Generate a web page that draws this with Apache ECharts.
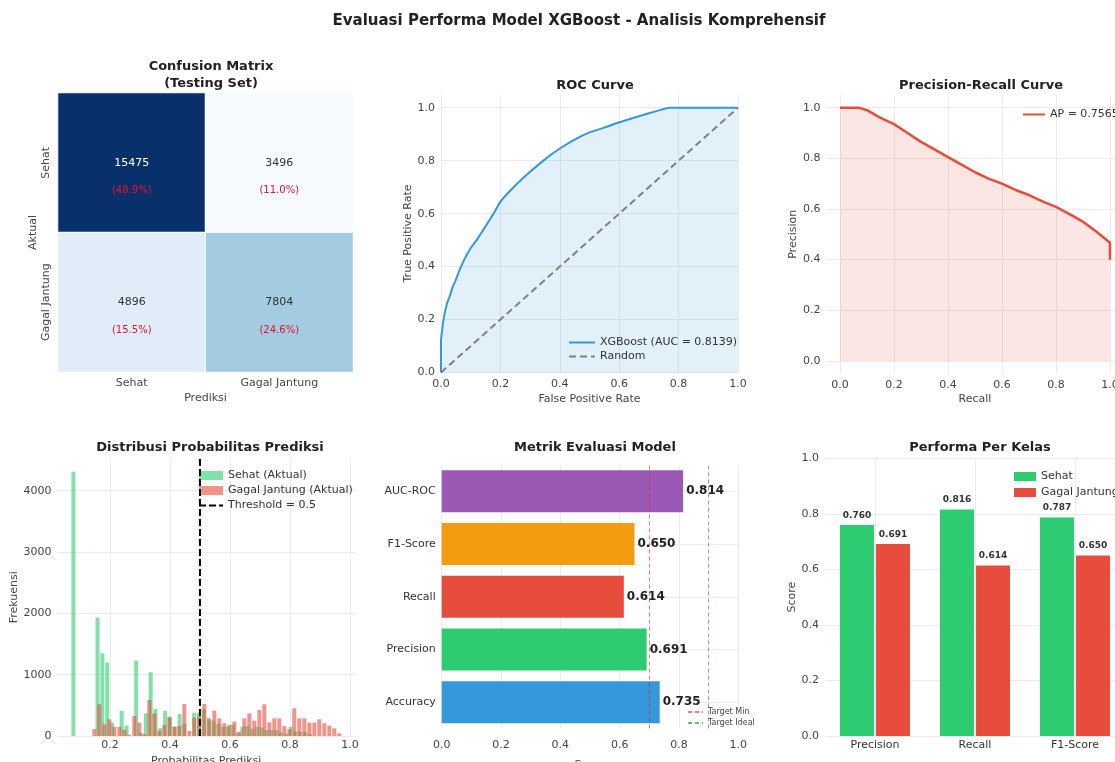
<!DOCTYPE html>
<html>
<head>
<meta charset="utf-8">
<script src="https://cdn.jsdelivr.net/npm/echarts@6/dist/echarts.min.js"></script>
<style>
html, body { margin: 0; padding: 0; background: #fff; }
#main { width: 1115px; height: 762px; }
</style>
</head>
<body>
<div id="main"></div>
<script>
// confusion matrix (baris = aktual, kolom = prediksi)
var cmLabels = ['Sehat', 'Gagal Jantung'];
var cmValues = [[15475, 3496], [4896, 7804]];

// ROC curve
var rocFpr = [0, 0, 0.005, 0.01, 0.02, 0.03, 0.04, 0.05, 0.06, 0.08,
    0.1, 0.12, 0.14, 0.16, 0.18, 0.2, 0.25, 0.3, 0.35, 0.4,
    0.45, 0.5, 0.55, 0.6, 0.65, 0.7, 0.75, 0.77, 1.0];
var rocTpr = [0, 0.12, 0.17, 0.21, 0.26, 0.29, 0.325, 0.35, 0.38, 0.43,
    0.47, 0.5, 0.535, 0.57, 0.605, 0.645, 0.706, 0.758, 0.805, 0.846,
    0.88, 0.907, 0.925, 0.945, 0.962, 0.979, 0.995, 1.0, 1.0];
var rocAuc = 0.8139;

// precision-recall curve
var prRecall = [0, 0.07, 0.1, 0.15, 0.2, 0.25, 0.3, 0.35, 0.4, 0.45, 0.5, 0.55, 0.6, 0.65, 0.7, 0.75, 0.8, 0.85, 0.9, 0.95, 1.0, 1.0];
var prPrecision = [1.0, 1.0, 0.99, 0.96, 0.935, 0.9, 0.865, 0.835, 0.805, 0.775, 0.745, 0.72, 0.7, 0.675, 0.655, 0.63, 0.608, 0.58, 0.55, 0.51, 0.467, 0.40];
var apScore = 0.7565;

// distribusi probabilitas (histogram 50 bin per kelas)
var sehatBinStart = 0.070, sehatBinWidth = 0.0161;
var sehatCounts = [4310, 0, 0, 0, 0, 1930, 1350, 1200, 220, 0,
    410, 170, 0, 1230, 50, 370, 1040, 440, 130, 410,
    300, 150, 360, 200, 0, 380, 380, 440, 300, 250,
    200, 150, 150, 180, 50, 150, 160, 120, 150, 140,
    100, 100, 100, 60, 40, 150, 80, 70, 60, 30];
var gagalBinStart = 0.1395, gagalBinWidth = 0.01667;
var gagalCounts = [114, 517, 190, 272, 150, 150, 100, 20, 326, 218,
    30, 588, 370, 87, 180, 315, 152, 163, 522, 82,
    299, 320, 522, 272, 413, 288, 207, 180, 234, 71,
    288, 370, 250, 424, 517, 223, 288, 288, 163, 109,
    452, 288, 288, 218, 218, 272, 207, 169, 125, 44];
var threshold = 0.5;
var histYMax = 4525;

// metrik evaluasi
var metricNames = ['Accuracy', 'Precision', 'Recall', 'F1-Score', 'AUC-ROC'];
var metricValues = [0.735, 0.691, 0.614, 0.650, 0.814];
var targetMin = 0.7, targetIdeal = 0.9;

// performa per kelas
var kelasMetrics = ['Precision', 'Recall', 'F1-Score'];
var sehatScores = [0.760, 0.816, 0.787];
var gagalScores = [0.691, 0.614, 0.650];

var unitTicks = [0, 0.2, 0.4, 0.6, 0.8, 1.0];
var FONT = 'DejaVu Sans';
var GRID_COLOR = '#ebebeb';
var metricColors = ['#3498db', '#2ecc71', '#e74c3c', '#f39c12', '#9b59b6'];

var chart = echarts.init(document.getElementById('main'));

// data heatmap
var cmTotal = 0, cmMax = 0, cmData = [];
cmValues.forEach(function (row, r) {
    row.forEach(function (v, c) {
        cmTotal += v;
        cmMax = Math.max(cmMax, v);
        cmData.push([c, r, v]);
    });
});

function pairs(xs, ys) {
    return xs.map(function (x, i) { return [x, ys[i]]; });
}
function histData(start, width, counts) {
    return counts.map(function (c, i) { return [start + width * (i + 0.5), c]; });
}
function fmt1(v) { return v.toFixed(1); }
// legenda garis tanpa simbol
function lineItem(name) {
    return { name: name, itemStyle: { opacity: 0 } };
}

function valueAxis(gi, min, max, name, nameGap, ticks) {
    var ax = {
        type: 'value', gridIndex: gi, min: min, max: max,
        name: name, nameLocation: 'middle', nameGap: nameGap,
        nameTextStyle: { fontSize: 11, color: '#444' },
        axisLine: { show: false },
        axisTick: { show: false },
        axisLabel: { fontSize: 11, color: '#444', margin: 6 },
        splitLine: { show: true, lineStyle: { color: GRID_COLOR, width: 1 } }
    };
    if (ticks) {
        ax.axisTick.customValues = ticks;
        ax.axisLabel.customValues = ticks;
    }
    return ax;
}

var titleStyle = { fontSize: 13, fontWeight: 'bold', color: '#222', fontFamily: FONT };

var xAxes = [
    {
        type: 'category', gridIndex: 0, data: cmLabels,
        name: 'Prediksi', nameLocation: 'middle', nameGap: 21,
        nameTextStyle: { fontSize: 11, color: '#444' },
        axisLine: { show: false }, axisTick: { show: false },
        axisLabel: { fontSize: 11, color: '#444', margin: 6 },
        splitLine: { show: false }
    },
    valueAxis(1, 0, 1, 'False Positive Rate', 21, unitTicks),
    valueAxis(2, -0.05, 1.05, 'Recall', 20, unitTicks),
    valueAxis(3, 0.025, 1.017, 'Probabilitas Prediksi', 20, [0.2, 0.4, 0.6, 0.8, 1.0]),
    valueAxis(4, 0, 1, 'Score', 31, unitTicks),
    {
        type: 'category', gridIndex: 5, data: kelasMetrics,
        axisLine: { show: false }, axisTick: { show: false },
        axisLabel: { fontSize: 11, color: '#333', margin: 4 },
        splitLine: { show: false }
    }
];
xAxes[1].axisLabel.formatter = fmt1;
xAxes[2].axisLabel.formatter = fmt1;
xAxes[3].axisLabel.formatter = fmt1;
xAxes[4].axisLabel.formatter = fmt1;
xAxes[4].axisLabel.margin = 11;
xAxes[3].axisLabel.margin = 4;

var yAxes = [
    {
        type: 'category', gridIndex: 0, data: cmLabels, inverse: true,
        name: 'Aktual', nameLocation: 'middle', nameGap: 19,
        nameTextStyle: { fontSize: 11, color: '#444' },
        axisLine: { show: false }, axisTick: { show: false },
        axisLabel: { fontSize: 11, color: '#444', rotate: 90, margin: 6 },
        splitLine: { show: false }
    },
    valueAxis(1, 0, 1.05, 'True Positive Rate', 25, unitTicks),
    valueAxis(2, -0.05, 1.05, 'Precision', 23, unitTicks),
    valueAxis(3, 0, histYMax, 'Frekuensi', 34, [0, 1000, 2000, 3000, 4000]),
    {
        type: 'category', gridIndex: 4, data: metricNames,
        axisLine: { show: false }, axisTick: { show: false },
        axisLabel: { fontSize: 11, color: '#333', margin: 6 },
        splitLine: { show: false }
    },
    valueAxis(5, 0, 1, 'Score', 21, unitTicks)
];
yAxes[1].axisLabel.formatter = fmt1;
yAxes[2].axisLabel.formatter = fmt1;
yAxes[3].axisLabel.formatter = function (v) { return String(v); };
yAxes[5].axisLabel.formatter = fmt1;

option = {
    animation: false,
    backgroundColor: '#fff',
    textStyle: { fontFamily: FONT },
    title: [
        { text: 'Evaluasi Performa Model XGBoost - Analisis Komprehensif', left: 574, top: 9, textAlign: 'center',
          textStyle: { fontSize: 15, fontWeight: 'bold', color: '#222', fontFamily: FONT } },
        { text: 'Confusion Matrix\n(Testing Set)', left: 206, top: 53, textAlign: 'center',
          textStyle: { fontSize: 13, fontWeight: 'bold', color: '#222', fontFamily: FONT, lineHeight: 17 } },
        { text: 'ROC Curve', left: 590, top: 74, textAlign: 'center', textStyle: titleStyle },
        { text: 'Precision-Recall Curve', left: 976, top: 74, textAlign: 'center', textStyle: titleStyle },
        { text: 'Distribusi Probabilitas Prediksi', left: 205, top: 436, textAlign: 'center', textStyle: titleStyle },
        { text: 'Metrik Evaluasi Model', left: 590, top: 436, textAlign: 'center', textStyle: titleStyle },
        { text: 'Performa Per Kelas', left: 975, top: 436, textAlign: 'center', textStyle: titleStyle }
    ],
    grid: [
        { left: 58, top: 93, width: 295, height: 279, outerBoundsMode: 'none' },
        { left: 441, top: 94.5, width: 297, height: 278, outerBoundsMode: 'none' },
        { left: 826.5, top: 95, width: 297, height: 278.6, outerBoundsMode: 'none' },
        { left: 57.5, top: 458.5, width: 297.5, height: 277.5, outerBoundsMode: 'none' },
        { left: 441.7, top: 465, width: 296.6, height: 263.5, outerBoundsMode: 'none' },
        { left: 825, top: 458.3, width: 300, height: 277.7, outerBoundsMode: 'none' }
    ],
    visualMap: {
        show: false, seriesIndex: 0, min: 3496, max: 15475,
        inRange: { color: ['#f7fbff', '#deebf7', '#c6dbef', '#9ecae1', '#6baed6', '#4292c6', '#2171b5', '#08519c', '#08306b'] }
    },
    legend: [
        { data: [lineItem('XGBoost (AUC = ' + rocAuc.toFixed(4) + ')'), lineItem('Random')], orient: 'vertical', left: 563, top: 332,
          itemWidth: 26, itemHeight: 10, itemGap: 3, textStyle: { fontSize: 11, color: '#333' } },
        { data: [lineItem('AP = ' + apScore.toFixed(4))], orient: 'vertical', left: 1017, top: 104,
          itemWidth: 22, itemHeight: 10, textStyle: { fontSize: 11, color: '#333' } },
        { data: [{ name: 'Sehat (Aktual)', icon: 'rect' }, { name: 'Gagal Jantung (Aktual)', icon: 'rect' }, lineItem('Threshold = 0.5')],
          orient: 'vertical', left: 193, top: 465, itemWidth: 24, itemHeight: 9, itemGap: 4,
          textStyle: { fontSize: 11, color: '#333' } },
        { data: [lineItem('Target Min'), lineItem('Target Ideal')], orient: 'vertical', left: 682, top: 703,
          itemWidth: 15, itemHeight: 6, itemGap: 3, textStyle: { fontSize: 8, color: '#444' } },
        { data: [{ name: 'Sehat', icon: 'rect' }, { name: 'Gagal Jantung', icon: 'rect' }], orient: 'vertical', left: 1009, top: 466,
          itemWidth: 22, itemHeight: 9, itemGap: 5, textStyle: { fontSize: 11, color: '#333' } }
    ],
    xAxis: xAxes,
    yAxis: yAxes,
    series: [
        // confusion matrix
        {
            name: 'Confusion Matrix', type: 'heatmap', xAxisIndex: 0, yAxisIndex: 0,
            data: cmData,
            itemStyle: { borderColor: '#fff', borderWidth: 1 },
            emphasis: { disabled: true },
            label: {
                show: true,
                offset: [0, 14],
                formatter: function (p) {
                    var v = p.value[2];
                    var pct = (v / cmTotal * 100).toFixed(1);
                    var k = v > cmMax * 0.6 ? 'nw' : 'n';
                    return '{' + k + '|' + v + '}\n{p|(' + pct + '%)}';
                },
                rich: {
                    n: { fontSize: 11, color: '#333', lineHeight: 28, fontFamily: FONT },
                    nw: { fontSize: 11, color: '#fff', lineHeight: 28, fontFamily: FONT },
                    p: { fontSize: 10, color: '#e8102a', lineHeight: 28, fontFamily: FONT }
                }
            }
        },
        // ROC
        {
            name: 'XGBoost (AUC = ' + rocAuc.toFixed(4) + ')', type: 'line', xAxisIndex: 1, yAxisIndex: 1,
            data: pairs(rocFpr, rocTpr), symbol: 'none', smooth: 0.15,
            lineStyle: { color: '#3498db', width: 2 },
            itemStyle: { color: '#3498db' },
            areaStyle: { color: 'rgba(52,152,219,0.2)' }
        },
        {
            name: 'Random', type: 'line', xAxisIndex: 1, yAxisIndex: 1,
            data: [[0, 0], [1, 1]], symbol: 'none',
            lineStyle: { color: '#808080', width: 2, type: [7, 4] },
            itemStyle: { color: '#808080' }
        },
        // PR
        {
            name: 'AP = ' + apScore.toFixed(4), type: 'line', xAxisIndex: 2, yAxisIndex: 2,
            data: pairs(prRecall, prPrecision), symbol: 'none',
            lineStyle: { color: '#e74c3c', width: 2.5 },
            itemStyle: { color: '#e74c3c' },
            areaStyle: { color: 'rgba(231,76,60,0.2)' }
        },
        // histogram
        {
            name: 'Sehat (Aktual)', type: 'bar', xAxisIndex: 3, yAxisIndex: 3,
            data: histData(sehatBinStart, sehatBinWidth, sehatCounts),
            barWidth: 4, barGap: '-100%',
            itemStyle: { color: 'rgba(46,204,113,0.6)' }
        },
        {
            name: 'Gagal Jantung (Aktual)', type: 'bar', xAxisIndex: 3, yAxisIndex: 3,
            data: histData(gagalBinStart, gagalBinWidth, gagalCounts),
            barWidth: 4, barGap: '-100%',
            itemStyle: { color: 'rgba(231,76,60,0.6)' }
        },
        {
            name: 'Threshold = 0.5', type: 'line', xAxisIndex: 3, yAxisIndex: 3,
            data: [[threshold, 0], [threshold, histYMax]], symbol: 'none', z: 5,
            lineStyle: { color: '#000', width: 2, type: [7, 3] },
            itemStyle: { color: '#000' }
        },
        // metrik evaluasi: garis grid di tengah kategori
        {
            name: 'gridMetrik', type: 'line', xAxisIndex: 4, yAxisIndex: 4, data: [], z: 0,
            markLine: {
                silent: true, symbol: 'none', label: { show: false }, z: 0,
                lineStyle: { color: GRID_COLOR, type: 'solid', width: 1 },
                data: metricNames.map(function (m) { return { yAxis: m }; })
            }
        },
        {
            name: 'Metrik', type: 'bar', xAxisIndex: 4, yAxisIndex: 4, z: 2,
            barWidth: 42,
            data: metricValues.map(function (v, i) {
                return { value: v, itemStyle: { color: metricColors[i] } };
            }),
            label: {
                show: true, position: 'right', distance: 3,
                fontSize: 12, fontWeight: 'bold', color: '#222',
                formatter: function (p) { return p.value.toFixed(3); }
            }
        },
        {
            name: 'Target Min', type: 'line', xAxisIndex: 4, yAxisIndex: 4, data: [], z: 10,
            lineStyle: { color: 'rgba(255,0,0,0.55)', width: 1, type: [4, 3] },
            itemStyle: { color: 'rgba(255,0,0,0.55)' },
            markLine: {
                silent: true, symbol: 'none', label: { show: false }, z: 10,
                lineStyle: { color: 'rgba(255,0,0,0.55)', width: 1, type: [4, 3] },
                data: [{ xAxis: targetMin }]
            }
        },
        {
            name: 'Target Ideal', type: 'line', xAxisIndex: 4, yAxisIndex: 4, data: [], z: 10,
            lineStyle: { color: 'rgba(0,128,0,0.55)', width: 1, type: [4, 3] },
            itemStyle: { color: 'rgba(0,128,0,0.55)' },
            markLine: {
                silent: true, symbol: 'none', label: { show: false }, z: 10,
                lineStyle: { color: 'rgba(0,128,0,0.55)', width: 1, type: [4, 3] },
                data: [{ xAxis: targetIdeal }]
            }
        },
        // performa per kelas
        {
            name: 'gridKelas', type: 'line', xAxisIndex: 5, yAxisIndex: 5, data: [], z: 0,
            markLine: {
                silent: true, symbol: 'none', label: { show: false }, z: 0,
                lineStyle: { color: GRID_COLOR, type: 'solid', width: 1 },
                data: kelasMetrics.map(function (m) { return { xAxis: m }; })
            }
        },
        {
            name: 'Sehat', type: 'bar', xAxisIndex: 5, yAxisIndex: 5, z: 2,
            data: sehatScores, barWidth: 34, barGap: '6%',
            itemStyle: { color: '#2ecc71' },
            label: {
                show: true, position: 'top', distance: 5, fontSize: 9, fontWeight: 'bold', color: '#333',
                formatter: function (p) { return p.value.toFixed(3); }
            }
        },
        {
            name: 'Gagal Jantung', type: 'bar', xAxisIndex: 5, yAxisIndex: 5, z: 2,
            data: gagalScores, barWidth: 34, barGap: '6%',
            itemStyle: { color: '#e74c3c' },
            label: {
                show: true, position: 'top', distance: 5, fontSize: 9, fontWeight: 'bold', color: '#333',
                formatter: function (p) { return p.value.toFixed(3); }
            }
        }
    ]
};

chart.setOption(option);
</script>
</body>
</html>
